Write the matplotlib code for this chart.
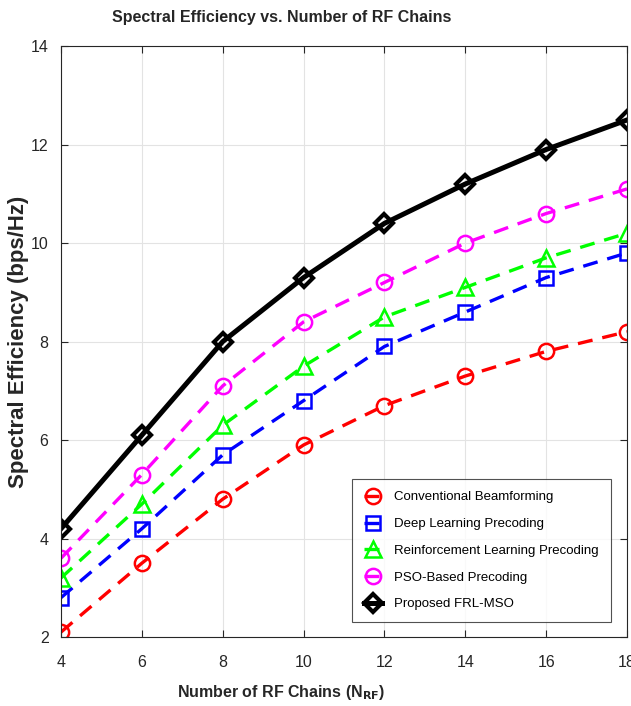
import matplotlib
matplotlib.use("Agg")
import matplotlib.pyplot as plt

x_rf = [4, 6, 8, 10, 12, 14, 16, 18]
conventional = [2.1, 3.5, 4.8, 5.9, 6.7, 7.3, 7.8, 8.2]
deep_learning = [2.8, 4.2, 5.7, 6.8, 7.9, 8.6, 9.3, 9.8]
reinforcement = [3.2, 4.7, 6.3, 7.5, 8.5, 9.1, 9.7, 10.2]
pso_based = [3.6, 5.3, 7.1, 8.4, 9.2, 10.0, 10.6, 11.1]
frl_mso = [4.2, 6.1, 8.0, 9.3, 10.4, 11.2, 11.9, 12.5]
labels = ["Conventional Beamforming", "Deep Learning Precoding",
          "Reinforcement Learning Precoding", "PSO-Based Precoding",
          "Proposed FRL-MSO"]
xticks = [4, 6, 8, 10, 12, 14, 16, 18]
yticks = [2, 4, 6, 8, 10, 12, 14]

plt.rcParams['font.family'] = ['Liberation Sans', 'DejaVu Sans']

fig = plt.figure(figsize=(6.31, 7.06), dpi=100)
ax = fig.add_axes([0.0967, 0.0977, 0.897, 0.837])

colors = ['#ff0000', '#0000ff', '#00ff00', '#ff00ff']
markers = ['o', 's', '^', 'o']
sizes = [11, 10, 11, 11]
series = [conventional, deep_learning, reinforcement, pso_based]
for s, c, m, ms, lab in zip(series, colors, markers, sizes, labels[:4]):
    ax.plot(x_rf, s, color=c, marker=m, linestyle='--',
            dashes=(4.5, 3), lw=2.4, markersize=ms, markerfacecolor='none',
            markeredgewidth=1.8, label=lab)
ax.plot(x_rf, frl_mso, color='black', marker='D', lw=3.6, markersize=9,
        markerfacecolor='none', markeredgewidth=3, label=labels[4])

ax.set_xlim(4, 18)
ax.set_ylim(2, 14)
ax.set_xticks(xticks)
ax.set_yticks(yticks)
ax.grid(True, color='#e3e3e3', lw=0.8)
ax.set_axisbelow(True)
ax.tick_params(direction='in', top=True, right=True, length=5, labelsize=11.5,
               colors='#262626')
ax.tick_params(axis='x', pad=13)
ax.tick_params(axis='y', pad=9)
for sp in ax.spines.values():
    sp.set_color('#262626')
    sp.set_linewidth(0.8)

ax.set_xlabel(r"Number of RF Chains (N$_{\mathbf{RF}}$)", fontsize=11.5,
              fontweight='bold', color='#262626', labelpad=9, x=0.389)
ax.set_ylabel("Spectral Efficiency (bps/Hz)", fontsize=16, fontweight='bold',
              color='#262626')
ax.yaxis.set_label_coords(-0.056, 0.5)
ax.set_title("Spectral Efficiency vs. Number of RF Chains", fontsize=11.5,
             fontweight='bold', color='#262626', pad=17, x=0.389)

leg = ax.legend(loc='lower left', bbox_to_anchor=(0.514, 0.025), fontsize=9.5,
                frameon=True, fancybox=False, edgecolor='#262626',
                handlelength=1.4, borderpad=0.9, labelspacing=1.1,
                handletextpad=0.9, borderaxespad=0)
leg.get_frame().set_linewidth(0.8)

fig.savefig("out.png", dpi=100)
